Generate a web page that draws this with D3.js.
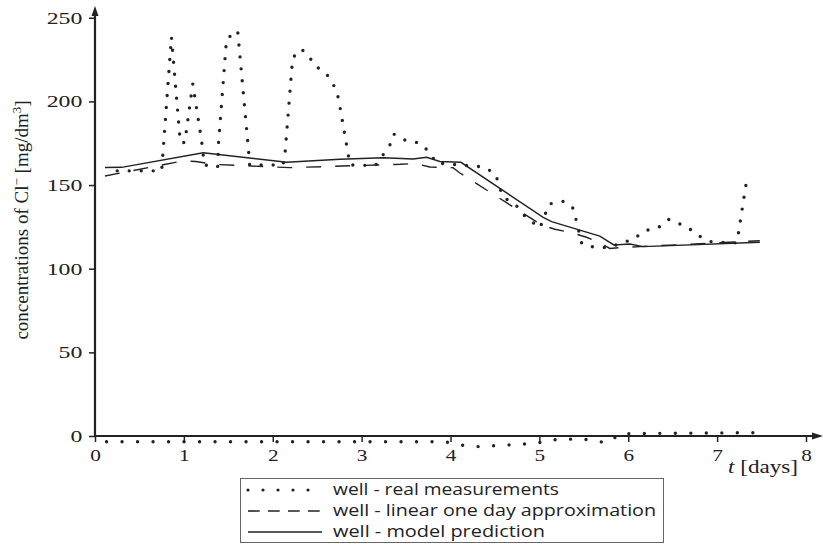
<!DOCTYPE html>
<html>
<head>
<meta charset="utf-8">
<script src="https://cdn.jsdelivr.net/npm/d3@7"></script>
<style>
  body { margin: 0; background: #fff; }
  svg { display: block; }
</style>
</head>
<body>
<div id="chart"></div>
<script>
// real measurements (days, mg/dm3)
var measDays = [0.25, 0.75, 0.86, 0.96, 1.01, 1.10, 1.20, 1.23, 1.38, 1.39, 1.48, 1.605, 1.727, 1.74, 2.115,
  2.14, 2.224, 2.317, 2.404, 2.463, 2.595, 2.677, 2.73, 2.756, 2.80, 2.846, 2.87, 3.153, 3.315, 3.36, 3.495,
  3.656, 3.772, 3.836, 4.376, 4.503, 4.548, 4.586, 4.68, 4.773, 4.852, 4.953, 5.006, 5.11, 5.272, 5.385,
  5.414, 5.478, 5.605, 5.774, 6.063, 6.183, 6.336, 6.453, 6.569, 6.712, 6.828, 6.94, 7.22, 7.24, 7.342];
var measVals = [158.5, 158.5, 238.5, 175.4, 175.4, 210.4, 176.3, 162, 160.8, 175, 237.3, 242.3, 171, 162, 162,
  170.2, 226, 231.3, 227.7, 221.6, 217.2, 210.8, 203.8, 196.8, 183.3, 169.2, 162, 161.6, 173.5, 180.5, 176.7,
  175.1, 169.2, 163.2, 160.8, 156.8, 150, 143, 140, 136.3, 130.3, 126.7, 124.3, 138.7, 140.3, 135.9,
  128.9, 114.9, 113, 112.6, 117.8, 122.7, 124.5, 129.5, 127.1, 123.1, 118.5, 116, 115.4, 121.3, 156.2];

// dotted series close to zero
var zeroDays = [0.13, 3.94, 4.106, 4.286, 4.631, 4.969, 5.126, 5.481, 5.65, 5.793, 5.898, 7.44];
var zeroVals = [-3.4, -3.4, -5.4, -6.4, -5.4, -4.4, -2.4, -1.6, -3.4, -3.8, 1.4, 2.0];

// linear one day approximation
var approxDays = [0.112, 0.99, 1.136, 1.35, 2.193, 3.431, 3.6, 3.768, 4.027, 4.106, 5.025, 5.175, 5.362,
  5.531, 5.68, 5.793, 5.94, 6.13, 7.48];
var approxVals = [155.4, 164.4, 164.1, 162.3, 160.4, 162.4, 162.9, 160.8, 160.4, 157.2, 126.1, 123.6, 121.5,
  118.8, 115.4, 112.1, 112.7, 113.2, 116.7];

// model prediction
var modelDays = [0.112, 0.30, 1.218, 2.156, 2.756, 3.243, 3.58, 3.731, 3.88, 4.117, 5.043, 5.137, 5.68,
  5.838, 6.018, 6.168, 7.48];
var modelVals = [160.5, 160.6, 169.3, 163.6, 165.4, 166.3, 165.6, 166.6, 164.1, 163.6, 130.7, 128.1, 119.5,
  114.2, 114.8, 113.2, 115.8];

var xTicks = [0, 1, 2, 3, 4, 5, 6, 7, 8];
var yTicks = [0, 50, 100, 150, 200, 250];
var legendLabels = ["well - real measurements", "well - linear one day approximation", "well - model prediction"];

var W = 823, H = 544;
var ink = "#222";

var svg = d3.select("#chart")
  .append("svg")
  .attr("width", W)
  .attr("height", H);

var x = d3.scaleLinear().domain([0, 8]).range([95, 806]);
var y = d3.scaleLinear().domain([0, 250]).range([436, 17.75]);

function zip(a, b) { return a.map(function (d, i) { return [d, b[i]]; }); }

var line = d3.line()
  .x(function (d) { return x(d[0]); })
  .y(function (d) { return y(d[1]); });

// Y axis
var gy = svg.append("g")
  .attr("transform", "translate(95,0)")
  .call(d3.axisLeft(y).tickValues(yTicks).tickSize(6).tickPadding(10).tickSizeOuter(0));
gy.select(".domain").remove();
gy.selectAll(".tick line").attr("stroke", ink).attr("stroke-width", 1.5);
gy.selectAll(".tick text")
  .attr("fill", ink)
  .style("font-family", "'Liberation Serif', serif")
  .style("font-size", "17px")
  .attr("transform", "scale(1.4,1)")
  .attr("x", -9);

// X axis
var gx = svg.append("g")
  .attr("transform", "translate(0,436)")
  .call(d3.axisBottom(x).tickValues(xTicks).tickSize(6).tickPadding(7).tickSizeOuter(0));
gx.select(".domain").remove();
gx.selectAll(".tick line").attr("stroke", ink).attr("stroke-width", 1.5);
gx.selectAll(".tick text")
  .attr("fill", ink)
  .style("font-family", "'Liberation Serif', serif")
  .style("font-size", "17px")
  .attr("transform", "scale(1.25,1)");

// axis lines with arrows
svg.append("line").attr("x1", 95).attr("x2", 95).attr("y1", 437).attr("y2", 12)
  .attr("stroke", ink).attr("stroke-width", 2.2);
svg.append("path").attr("d", "M95,6 L91.5,16 L98.5,16 Z").attr("fill", ink);
svg.append("line").attr("x1", 94).attr("x2", 816).attr("y1", 436).attr("y2", 436)
  .attr("stroke", ink).attr("stroke-width", 2.2);
svg.append("path").attr("d", "M823,436 L812,432.5 L812,439.5 Z").attr("fill", ink);

// series
svg.append("path")
  .datum(zip(zeroDays, zeroVals))
  .attr("d", line)
  .attr("fill", "none")
  .attr("stroke", ink)
  .attr("stroke-width", 3.4)
  .attr("stroke-linecap", "round")
  .attr("stroke-dasharray", "0,15.5");

svg.append("path")
  .datum(zip(measDays, measVals))
  .attr("d", line)
  .attr("fill", "none")
  .attr("stroke", ink)
  .attr("stroke-width", 3.4)
  .attr("stroke-linecap", "round")
  .attr("stroke-dasharray", "0,12");

svg.append("path")
  .datum(zip(approxDays, approxVals))
  .attr("d", line)
  .attr("fill", "none")
  .attr("stroke", ink)
  .attr("stroke-width", 1.4)
  .attr("stroke-dasharray", "15,14");

svg.append("path")
  .datum(zip(modelDays, modelVals))
  .attr("d", line)
  .attr("fill", "none")
  .attr("stroke", ink)
  .attr("stroke-width", 1.4);

// y label
var yl = svg.append("text")
  .attr("transform", "translate(28,220) rotate(-90)")
  .attr("text-anchor", "middle")
  .attr("fill", ink)
  .style("font-family", "'Liberation Serif', serif")
  .style("font-size", "19px");
yl.append("tspan").text("concentrations of Cl");
yl.append("tspan").attr("dy", -7).style("font-size", "13px").text("\u2212");
yl.append("tspan").attr("dy", 7).text(" [mg/dm");
yl.append("tspan").attr("dy", -7).style("font-size", "13px").text("3");
yl.append("tspan").attr("dy", 7).text("]");

// x label
var xl = svg.append("text")
  .attr("x", 728).attr("y", 473)
  .attr("fill", ink)
  .attr("textLength", 70)
  .attr("lengthAdjust", "spacingAndGlyphs")
  .style("font-family", "'Liberation Serif', serif")
  .style("font-size", "18px");
xl.append("tspan").style("font-style", "italic").text("t");
xl.append("tspan").text(" [days]");

// legend
var lg = svg.append("g");
lg.append("rect")
  .attr("x", 240.5).attr("y", 478.5).attr("width", 423).attr("height", 64)
  .attr("fill", "#fff").attr("stroke", "#666").attr("stroke-width", 1);

var rowY = [490, 511, 532];
var textW = [226, 323, 212];
var dashes = ["0,15", "11.7,8.3", null];
var widths = [3.2, 1.6, 1.4];
legendLabels.forEach(function (lab, i) {
  var s = lg.append("line")
    .attr("x1", 248).attr("x2", 322)
    .attr("y1", rowY[i]).attr("y2", rowY[i])
    .attr("stroke", ink)
    .attr("stroke-width", widths[i]);
  if (dashes[i]) s.attr("stroke-dasharray", dashes[i]);
  if (i == 0) s.attr("stroke-linecap", "round");
  lg.append("text")
    .attr("x", 333).attr("y", rowY[i] + 5)
    .attr("fill", ink)
    .attr("textLength", textW[i])
    .attr("lengthAdjust", "spacingAndGlyphs")
    .style("font-family", "'Open Sans', sans-serif")
    .style("font-size", "17px")
    .text(lab);
});
</script>
</body>
</html>
